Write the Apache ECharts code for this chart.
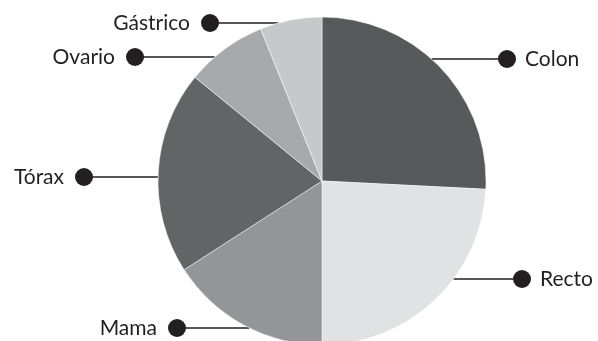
<!DOCTYPE html>
<html>
<head>
<meta charset="utf-8">
<script src="https://cdn.jsdelivr.net/npm/echarts@6/dist/echarts.min.js"></script>
<style>
html,body{margin:0;padding:0;background:#fff;}
#c{width:598px;height:341px;}
</style>
</head>
<body>
<div id="c"></div>
<script>
// Data
var categories = ['Colon', 'Recto', 'Mama', 'Tórax', 'Ovario', 'Gástrico'];
var values = [25.8, 24.2, 15.9, 20.0, 8.0, 6.1];

// Styles / layout (not data)
var colors = ['#58595b', '#e1e2e4', '#939598', '#636466', '#a7a9ac', '#c7c8ca'];
var labelY = [59, 279, 328, 177, 57, 23];
var dotX = [507, 522, 177, 84, 135, 210];
var CX = 322, CY = 181, R = 164;

var chart = echarts.init(document.getElementById('c'), null, {renderer: 'canvas'});
chart.setOption({
  animation: false,
  backgroundColor: '#ffffff',
  series: [{
    type: 'pie',
    center: [CX, CY],
    radius: R,
    startAngle: 90,
    clockwise: true,
    avoidLabelOverlap: false,
    silent: true,
    itemStyle: {borderColor: '#ffffff', borderWidth: 0.5},
    data: categories.map(function (n, i) {
      return {name: n, value: values[i], itemStyle: {color: colors[i]}};
    }),
    label: {
      show: true,
      position: 'outside',
      formatter: function (p) {
        return dotX[p.dataIndex] > CX ? '{dot| }{tr|' + p.name + '}' : '{tl|' + p.name + '}{dot| }';
      },
      rich: {
        dot: {width: 18, height: 18, borderRadius: 9, backgroundColor: '#231f20'},
        tr: {fontFamily: 'Lato', fontSize: 21, color: '#231f20', padding: [0, 0, 0, 9]},
        tl: {fontFamily: 'Lato', fontSize: 21, color: '#231f20', padding: [0, 11, 0, 0]}
      }
    },
    labelLine: {show: true, lineStyle: {color: '#231f20', width: 1.5}},
    labelLayout: function (p) {
      var i = p.dataIndex;
      var y = labelY[i], dx = dotX[i];
      var side = dx > CX ? 1 : -1;
      var edgeX = CX + side * Math.sqrt(Math.max(0, R * R - (y - CY) * (y - CY)));
      return {
        x: dx - side * 9,
        y: y,
        align: side > 0 ? 'left' : 'right',
        verticalAlign: 'middle',
        labelLinePoints: [[edgeX, y], [(edgeX + dx) / 2, y], [dx, y]]
      };
    }
  }]
});
</script>
</body>
</html>
